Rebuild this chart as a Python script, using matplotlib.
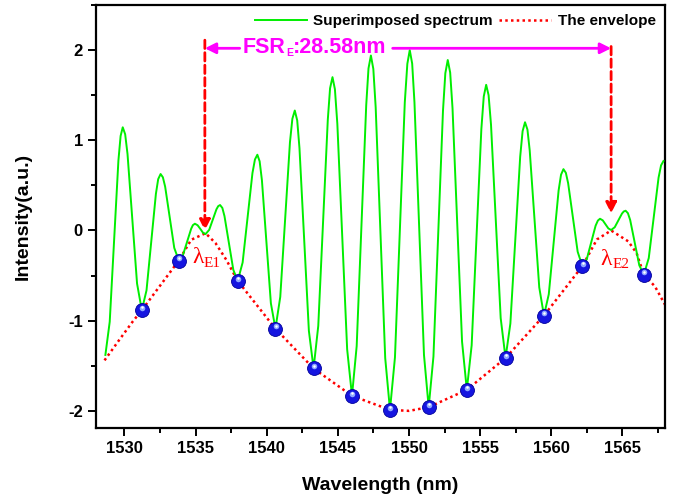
import numpy as np
import matplotlib
matplotlib.use('Agg')
import matplotlib.pyplot as plt
import matplotlib.transforms as mtransforms
from matplotlib.ticker import MultipleLocator

# superimposed spectrum (nm, a.u.)
green_x = [1528.66, 1528.965, 1529.27, 1529.575, 1529.73, 1529.88,
           1530.05, 1530.215, 1530.55, 1530.885, 1531.22,
           1531.55, 1531.88, 1532.21, 1532.37, 1532.54,
           1532.70, 1532.86, 1533.18, 1533.50, 1533.82,
           1534.11, 1534.40, 1534.69, 1534.81, 1534.95,
           1535.14, 1535.33, 1535.51, 1535.70,
           1535.955, 1536.21, 1536.465, 1536.59, 1536.72,
           1536.88, 1537.03, 1537.34, 1537.65, 1537.96,
           1538.305, 1538.65, 1538.995, 1539.17, 1539.34,
           1539.50, 1539.66, 1539.975, 1540.29, 1540.61,
           1540.95, 1541.29, 1541.63, 1541.80, 1541.97,
           1542.14, 1542.30, 1542.63, 1542.96, 1543.29,
           1543.62, 1543.955, 1544.29, 1544.45, 1544.62,
           1544.79, 1544.96, 1545.305, 1545.65, 1545.99,
           1546.32, 1546.655, 1546.99, 1547.15, 1547.32,
           1547.49, 1547.655, 1547.99, 1548.325, 1548.66,
           1549.01, 1549.355, 1549.70, 1549.88, 1550.05,
           1550.22, 1550.38, 1550.715, 1551.05, 1551.38,
           1551.715, 1552.05, 1552.385, 1552.55, 1552.72,
           1552.89, 1553.055, 1553.39, 1553.725, 1554.06,
           1554.40, 1554.74, 1555.08, 1555.25, 1555.42,
           1555.59, 1555.76, 1556.10, 1556.44, 1556.78,
           1557.12, 1557.465, 1557.81, 1557.98, 1558.15,
           1558.32, 1558.48, 1558.815, 1559.15, 1559.48,
           1559.82, 1560.165, 1560.51, 1560.68, 1560.85,
           1561.02, 1561.18, 1561.515, 1561.85, 1562.18,
           1562.49, 1562.80, 1563.11, 1563.27, 1563.42,
           1563.615, 1563.81, 1564.005, 1564.20,
           1564.455, 1564.71, 1564.965, 1565.09, 1565.22,
           1565.38, 1565.54, 1565.86, 1566.18, 1566.50,
           1566.845, 1567.19, 1567.535, 1567.71, 1567.88]
green_y = [-1.38, -1.012, -0.118, 0.775, 1.048, 1.144,
           1.067, 0.848, 0.130, -0.588, -0.884,
           -0.664, -0.129, 0.406, 0.569, 0.626,
           0.590, 0.486, 0.147, -0.193, -0.333,
           -0.273, -0.127, 0.020, 0.059, 0.075,
           0.058, 0.018, -0.023, -0.040,
           0.007, 0.121, 0.235, 0.270, 0.282,
           0.250, 0.159, -0.139, -0.436, -0.559,
           -0.355, 0.141, 0.636, 0.787, 0.840,
           0.767, 0.558, -0.125, -0.807, -1.089,
           -0.736, 0.121, 0.977, 1.238, 1.330,
           1.221, 0.912, -0.100, -1.112, -1.530,
           -1.058, 0.085, 1.228, 1.577, 1.700,
           1.566, 1.184, -0.067, -1.317, -1.833,
           -1.282, 0.054, 1.389, 1.797, 1.940,
           1.791, 1.366, -0.025, -1.415, -1.989,
           -1.407, 0.006, 1.418, 1.848, 2.000,
           1.850, 1.422, 0.021, -1.381, -1.959,
           -1.397, -0.035, 1.328, 1.744, 1.890,
           1.751, 1.356, 0.062, -1.233, -1.767,
           -1.273, -0.076, 1.121, 1.486, 1.615,
           1.500, 1.173, 0.101, -0.972, -1.414,
           -1.032, -0.107, 0.818, 1.101, 1.200,
           1.119, 0.887, 0.128, -0.631, -0.944,
           -0.707, -0.132, 0.443, 0.618, 0.680,
           0.639, 0.524, 0.144, -0.236, -0.395,
           -0.318, -0.133, 0.053, 0.110, 0.130,
           0.112, 0.068, 0.023, 0.005,
           0.036, 0.112, 0.188, 0.211, 0.219,
           0.192, 0.116, -0.136, -0.386, -0.490,
           -0.306, 0.140, 0.586, 0.722, 0.770]

# envelope through the minima
env_x = [1528.6, 1529.65, 1530.58, 1531.22, 1533.82, 1534.69, 1535.7, 1536.4, 1537.16,
         1537.96, 1540.61, 1543.29, 1545.99, 1548.66, 1550.0, 1551.38, 1554.06,
         1556.78, 1559.48, 1562.18, 1563.2, 1564.2, 1565.4, 1565.99, 1566.5, 1567.28, 1568.0]
env_y = [-1.44, -1.21, -1.01, -0.884, -0.333, -0.103, -0.03, -0.14, -0.326,
         -0.559, -1.089, -1.53, -1.833, -1.989, -2.0, -1.959, -1.767,
         -1.414, -0.944, -0.395, -0.10, 0.0, -0.12, -0.25, -0.49, -0.62, -0.826]

# marked minima (blue balls)
dip_x = [1531.22, 1533.82, 1537.96, 1540.61, 1543.29, 1545.99, 1548.66,
         1551.38, 1554.06, 1556.78, 1559.48, 1562.18, 1566.50]
dip_y = [-0.884, -0.333, -0.559, -1.089, -1.53, -1.833, -1.989,
         -1.959, -1.767, -1.414, -0.944, -0.395, -0.490]

lambda_e1 = 1535.65
lambda_e2 = 1564.2
fsr_text = '28.58nm'

plt.rcParams['font.family'] = ['Liberation Sans', 'DejaVu Sans']
plt.rcParams['font.weight'] = 'bold'
plt.rcParams['axes.unicode_minus'] = False

fig = plt.figure(figsize=(6.76, 5.0), dpi=100)
ax = fig.add_axes([0.142, 0.144, 0.842, 0.846])

ax.plot(green_x, green_y, color='#00ee00', lw=1.4, label='Superimposed spectrum', zorder=3,
        solid_joinstyle='round')
ax.plot(env_x, env_y, color='red', lw=1.8, linestyle=(0, (1, 1.3)), label='The envelope', zorder=2)

# shaded balls
ax.plot(dip_x, dip_y, 'o', ms=10, color='#1515e0', mec='#00009a', mew=0.6, zorder=5)
hl = mtransforms.offset_copy(ax.transData, fig=fig, x=0.5, y=2.2, units='dots')
ax.plot(dip_x, dip_y, 'o', ms=4, color='#8fa8ff', mec='none', transform=hl, zorder=6)
hl2 = mtransforms.offset_copy(ax.transData, fig=fig, x=0.5, y=2.8, units='dots')
ax.plot(dip_x, dip_y, 'o', ms=1.8, color='white', mec='none', transform=hl2, zorder=7)

# FSR arrows
red_arrow = dict(arrowstyle='-|>', color='red', lw=2, linestyle=(0, (3, 1.5)),
                 mutation_scale=16, shrinkA=0, shrinkB=0)
ax.annotate('', xy=(lambda_e1, 0.0), xytext=(lambda_e1, 2.11), arrowprops=red_arrow, zorder=4)
ax.annotate('', xy=(lambda_e2, 0.19), xytext=(lambda_e2, 2.04), arrowprops=red_arrow, zorder=4)

mag_arrow = dict(arrowstyle='-|>', color='magenta', lw=2, mutation_scale=16, shrinkA=0, shrinkB=0)
ax.annotate('', xy=(lambda_e1, 2.02), xytext=(1538.1, 2.02), arrowprops=mag_arrow, zorder=4)
ax.annotate('', xy=(lambda_e2, 2.02), xytext=(1548.85, 2.02), arrowprops=mag_arrow, zorder=4)

t1 = ax.text(1538.3, 1.97, 'FSR', color='magenta', fontsize=15.5, fontweight='bold',
             va='baseline', ha='left')
t2 = ax.annotate('E', xy=(1, 0), xycoords=t1, xytext=(0.5, 0), textcoords='offset points',
                 color='magenta', fontsize=7.5, fontweight='bold', va='bottom', ha='left')
ax.annotate(':' + fsr_text, xy=(1, 0), xycoords=t2, xytext=(0, 0), textcoords='offset points',
            color='magenta', fontsize=15.5, fontweight='bold', va='bottom', ha='left')

# lambda labels: big lambda, smaller E1 / E2
for lx, ly, sub in [(1534.75, -0.36, 'E1'), (1563.43, -0.38, 'E2')]:
    lam = ax.text(lx, ly, 'λ', color='red', fontsize=17, fontweight='normal',
                  family='Liberation Serif', va='baseline', ha='left')
    ax.annotate(sub, xy=(1, 0), xycoords=lam, xytext=(0.3, -1.2), textcoords='offset points',
                color='red', fontsize=11, fontweight='normal', family='Liberation Serif',
                va='bottom', ha='left')

ax.set_xlim(1528.0, 1568.0)
ax.set_ylim(-2.19, 2.5)
ax.xaxis.set_major_locator(MultipleLocator(5))
ax.xaxis.set_minor_locator(MultipleLocator(2.5))
ax.yaxis.set_major_locator(MultipleLocator(1))
ax.yaxis.set_minor_locator(MultipleLocator(0.5))
ax.tick_params(which='major', direction='out', length=6, width=1.4, labelsize=12)
ax.tick_params(which='minor', direction='out', length=3.5, width=1.4)
for s in ax.spines.values():
    s.set_linewidth(1.6)

ax.set_xlabel('Wavelength (nm)', fontsize=14, fontweight='bold', labelpad=15)
ax.set_ylabel('Intensity(a.u.)', fontsize=14, fontweight='bold', labelpad=26)

ax.legend(loc='upper right', ncol=2, frameon=False, handlelength=3.4,
          handletextpad=0.45, columnspacing=0.4, borderaxespad=0.2,
          prop={'weight': 'bold', 'size': 11})

fig.savefig('out.png', dpi=100)
